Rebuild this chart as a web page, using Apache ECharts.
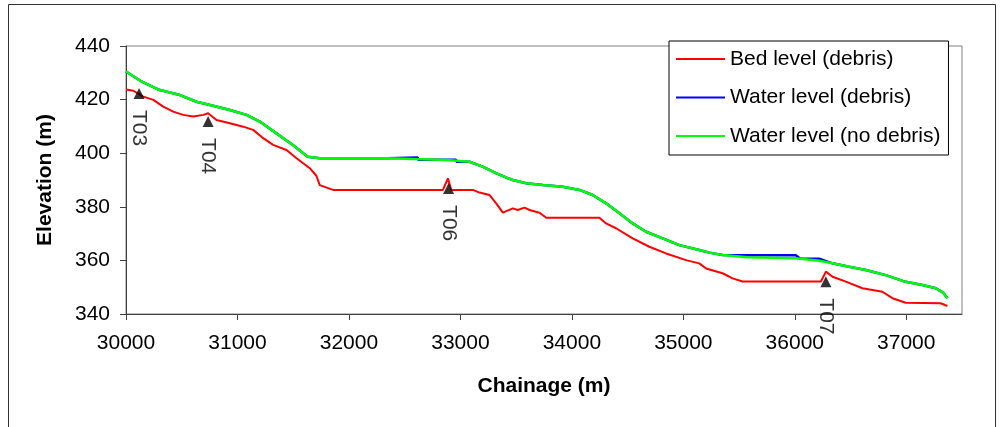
<!DOCTYPE html>
<html>
<head>
<meta charset="utf-8">
<script src="https://cdn.jsdelivr.net/npm/echarts@6/dist/echarts.min.js"></script>
<style>
html,body{margin:0;padding:0;background:#fff;}
#chart{width:1003px;height:427px;}
</style>
</head>
<body>
<div id="chart"></div>
<script>
// ---- Data ----
const seriesNames = ['Bed level (debris)', 'Water level (debris)', 'Water level (no debris)'];

const bedX = [30000,30066,30155,30245,30334,30424,30513,30603,30693,30737,30812,30932,31051,31141,31231,31320,31440,31530,31649,31709,31738,31858,32843,32888,32918,33112,33172,33262,33321,33381,33470,33515,33575,33620,33710,33770,34247,34307,34396,34546,34695,34845,35024,35143,35204,35352,35442,35532,36234,36279,36338,36458,36607,36786,36876,36995,37309,37369];
const bedY = [423.8,423.3,421.1,419.9,417.4,415.5,414.3,413.7,414.3,414.9,412.4,411.2,409.9,408.7,405.6,403.1,401.2,398.1,394.4,391.5,388.1,386.3,386.3,390.6,386.3,386.3,385.3,384.4,381.3,377.8,379.4,378.8,379.7,378.8,377.8,375.9,375.9,373.8,372.0,368.2,365.1,362.6,360.1,358.9,357.0,355.2,353.3,352.1,352.1,355.8,353.9,352.1,349.6,348.3,345.9,344.2,344.0,343.0];

const wlDebrisX = [30000,30125,30287,30484,30633,30753,30932,31082,31200,31350,31500,31630,31738,32348,32350,32617,32620,32876,32880,32960,32965,33082,33199,33324,33413,33470,33590,33739,33918,34068,34187,34307,34427,34546,34666,34815,34964,35143,35233,35352,35576,36009,36050,36219,36338,36487,36637,36816,36995,37145,37265,37330,37369];
const wlDebrisY = [430.5,427.1,423.8,421.7,419.2,418.0,416.1,414.3,411.8,407.4,403.0,398.7,398.1,398.1,398.4,398.4,397.6,397.6,397.6,397.6,396.8,396.8,395.0,392.5,390.9,390.0,388.8,388.1,387.5,386.3,384.4,381.3,377.6,373.8,370.7,368.2,365.7,363.9,362.9,362.0,361.9,361.9,360.6,360.6,358.9,357.6,356.4,354.5,352.0,350.8,349.6,348.0,345.9];

const wlNoDebrisX = [30000,30125,30287,30484,30633,30753,30932,31082,31200,31350,31500,31630,31738,32348,32350,32876,32880,33082,33199,33324,33413,33470,33590,33739,33918,34068,34187,34307,34427,34546,34666,34815,34964,35143,35233,35352,35576,36009,36219,36338,36487,36637,36816,36995,37145,37265,37330,37369];
const wlNoDebrisY = [430.5,427.1,423.8,421.7,419.2,418.0,416.1,414.3,411.8,407.4,403.0,398.7,398.1,398.1,397.5,397.5,396.8,396.8,395.0,392.5,390.9,390.0,388.8,388.1,387.5,386.3,384.4,381.3,377.6,373.8,370.7,368.2,365.7,363.9,362.9,362.0,361.2,360.8,359.9,358.9,357.6,356.4,354.5,352.0,350.8,349.6,348.0,345.9];

const stationNames = ['T03','T04','T06','T07'];
const stationX = [30117,30737,32894,36279];
const stationY = [422.3,411.8,386.8,352.0];

const xTicks = [30000,31000,32000,33000,34000,35000,36000,37000];
const yTicks = [340,360,380,400,420,440];

const xTitle = 'Chainage (m)';
const yTitle = 'Elevation (m)';

// ---- Build ----
const zip = (xs, ys) => xs.map((x, i) => [x, ys[i]]);
const font = '"Liberation Sans", Arial, sans-serif';

const chart = echarts.init(document.getElementById('chart'), null, {renderer: 'canvas'});
chart.setOption({
  animation: false,
  backgroundColor: '#fff',
  textStyle: {fontFamily: font},
  graphic: [{
    type: 'rect', silent: true, z: -1,
    shape: {x: 8.5, y: 4.5, width: 987, height: 440},
    style: {fill: 'none', stroke: '#333', lineWidth: 1}
  }],
  grid: {
    left: 126, right: 41, top: 46, bottom: 113,
    show: true, borderColor: '#808080', borderWidth: 1, backgroundColor: 'transparent'
  },
  legend: {
    data: seriesNames,
    orient: 'vertical',
    left: 669, top: 41,
    padding: [6, 8, 7, 7],
    itemGap: 14.5,
    itemWidth: 49, itemHeight: 2,
    icon: 'rect',
    backgroundColor: '#fff',
    borderColor: '#000', borderWidth: 1,
    textStyle: {fontFamily: font, fontSize: 21, color: '#000', lineHeight: 24}
  },
  xAxis: {
    type: 'value', min: 30000, max: 37500, interval: 1000,
    name: xTitle, nameLocation: 'middle', nameGap: 62,
    nameTextStyle: {fontFamily: font, fontSize: 21, fontWeight: 'bold', color: '#000'},
    axisLine: {show: true, onZero: false, lineStyle: {color: '#404040', width: 1}},
    axisTick: {show: true, length: 6, customValues: xTicks, lineStyle: {color: '#404040'}},
    axisLabel: {margin: 19, fontFamily: font, fontSize: 21, color: '#000', customValues: xTicks,
      formatter: v => String(v)},
    splitLine: {show: false}
  },
  yAxis: {
    type: 'value', min: 340, max: 440, interval: 20,
    name: yTitle, nameLocation: 'middle', nameGap: 70,
    nameTextStyle: {fontFamily: font, fontSize: 21, fontWeight: 'bold', color: '#000'},
    axisLine: {show: true, onZero: false, lineStyle: {color: '#404040', width: 1}},
    axisTick: {show: true, length: 6, customValues: yTicks, lineStyle: {color: '#404040'}},
    axisLabel: {margin: 16, fontFamily: font, fontSize: 21, color: '#000', customValues: yTicks,
      formatter: v => String(v)},
    splitLine: {show: false}
  },
  series: [
    {name: seriesNames[0], type: 'line', data: zip(bedX, bedY), symbol: 'none',
     lineStyle: {color: '#ff0000', width: 2}, itemStyle: {color: '#ff0000'}},
    {name: seriesNames[1], type: 'line', data: zip(wlDebrisX, wlDebrisY), symbol: 'none',
     lineStyle: {color: '#0000ff', width: 2.5}, itemStyle: {color: '#0000ff'}},
    {name: seriesNames[2], type: 'line', data: zip(wlNoDebrisX, wlNoDebrisY), symbol: 'none',
     lineStyle: {color: '#00ff00', width: 2.5}, itemStyle: {color: '#00ff00'}},
    {name: 'Stations', type: 'scatter', data: stationX.map((x, i) => ({value: [x, stationY[i]], name: stationNames[i]})),
     symbol: 'triangle', symbolSize: 11, itemStyle: {color: '#000'}, z: 5,
     label: {show: true, formatter: p => p.name, position: 'bottom', distance: 11,
       rotate: -90, align: 'left', verticalAlign: 'middle',
       fontFamily: font, fontSize: 21, color: '#000'}}
  ]
});
</script>
</body>
</html>
